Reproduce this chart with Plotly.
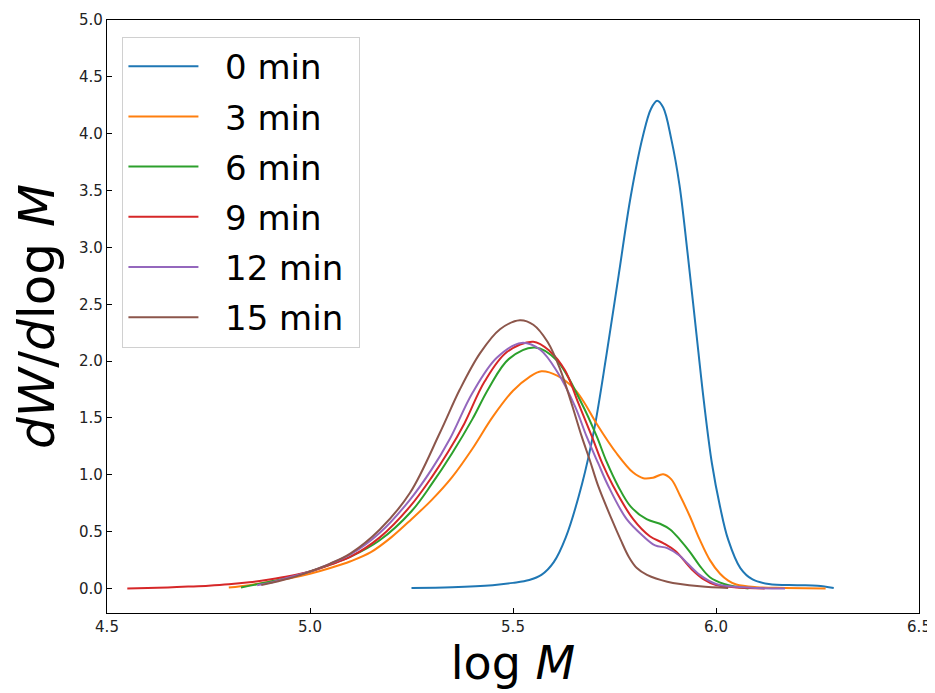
import plotly.graph_objects as go

# series: molecular weight distributions at different times
labels = ['0 min', '3 min', '6 min', '9 min', '12 min', '15 min']
colors = ['#1f77b4', '#ff7f0e', '#2ca02c', '#d62728', '#9467bd', '#8c564b']

x0 = [5.25, 5.35, 5.45, 5.50, 5.54, 5.57, 5.60, 5.63, 5.67, 5.70, 5.73, 5.76, 5.79, 5.82, 5.84,
      5.855, 5.87, 5.89, 5.91, 5.93, 5.95, 5.97, 5.99, 6.01, 6.03, 6.06, 6.09, 6.13, 6.20, 6.25, 6.29]
y0 = [0.005, 0.012, 0.03, 0.05, 0.075, 0.12, 0.23, 0.45, 0.92, 1.40, 2.05, 2.75, 3.45, 3.98, 4.22,
      4.29, 4.23, 3.95, 3.55, 2.95, 2.30, 1.65, 1.10, 0.72, 0.43, 0.18, 0.08, 0.04, 0.03, 0.025, 0.005]

x3 = [4.80, 4.85, 4.90, 4.95, 5.00, 5.05, 5.10, 5.15, 5.20, 5.25, 5.30, 5.35, 5.40, 5.45, 5.50,
      5.54, 5.57, 5.61, 5.65, 5.673, 5.706, 5.755, 5.796, 5.821, 5.845, 5.87, 5.89, 5.911, 5.935, 5.96,
      5.985, 6.01, 6.03, 6.05, 6.10, 6.17, 6.27]
y3 = [0.01, 0.03, 0.06, 0.09, 0.13, 0.18, 0.24, 0.32, 0.45, 0.61, 0.78, 0.98, 1.23, 1.51, 1.74,
      1.86, 1.91, 1.87, 1.76, 1.65, 1.45, 1.19, 1.02, 0.97, 0.975, 1.005, 0.96, 0.82, 0.64, 0.43,
      0.25, 0.13, 0.07, 0.035, 0.012, 0.005, 0.0]

x6 = [4.83, 4.90, 4.95, 5.00, 5.05, 5.10, 5.17, 5.25, 5.30, 5.35, 5.40, 5.44, 5.49, 5.554, 5.607,
      5.669, 5.706, 5.73, 5.759, 5.79, 5.829, 5.862, 5.887, 5.911, 5.936, 5.96, 5.985, 6.02, 6.05, 6.08]
y6 = [0.01, 0.06, 0.10, 0.15, 0.21, 0.28, 0.42, 0.68, 0.92, 1.19, 1.49, 1.76, 2.02, 2.12, 2.01,
      1.63, 1.34, 1.12, 0.90, 0.72, 0.61, 0.57, 0.52, 0.43, 0.32, 0.20, 0.10, 0.04, 0.015, 0.0]

x9 = [4.55, 4.60, 4.65, 4.70, 4.75, 4.80, 4.85, 4.90, 4.95, 5.00, 5.05, 5.10, 5.172, 5.246, 5.30,
      5.34, 5.38, 5.43, 5.485, 5.55, 5.59, 5.628, 5.661, 5.694, 5.72, 5.747, 5.796, 5.837, 5.87, 5.90,
      5.94, 5.97, 6.00, 6.05, 6.12]
y9 = [0.0, 0.005, 0.01, 0.017, 0.025, 0.037, 0.055, 0.08, 0.11, 0.15, 0.21, 0.28, 0.45, 0.72, 0.98,
      1.20, 1.45, 1.82, 2.08, 2.17, 2.09, 1.92, 1.63, 1.34, 1.10, 0.90, 0.61, 0.46, 0.40, 0.33,
      0.17, 0.08, 0.03, 0.01, 0.0]

x12 = [4.87, 4.90, 4.95, 5.00, 5.05, 5.10, 5.172, 5.246, 5.30, 5.345, 5.40, 5.46, 5.521, 5.567, 5.61,
       5.653, 5.681, 5.71, 5.735, 5.78, 5.821, 5.85, 5.88, 5.91, 5.93, 5.96, 6.00, 6.05, 6.10, 6.17]
y12 = [0.03, 0.05, 0.10, 0.15, 0.22, 0.30, 0.49, 0.78, 1.05, 1.32, 1.72, 2.03, 2.16, 2.10, 1.90,
       1.60, 1.34, 1.10, 0.90, 0.61, 0.46, 0.38, 0.355, 0.29, 0.22, 0.12, 0.04, 0.015, 0.005, 0.0]

x15 = [4.88, 4.95, 5.00, 5.05, 5.10, 5.172, 5.246, 5.32, 5.369, 5.419, 5.468, 5.517, 5.55, 5.585,
       5.616, 5.644, 5.669, 5.69, 5.71, 5.743, 5.765, 5.785, 5.805, 5.83, 5.88, 5.96, 6.03]
y15 = [0.03, 0.09, 0.15, 0.22, 0.31, 0.52, 0.84, 1.37, 1.75, 2.07, 2.28, 2.36, 2.32, 2.17,
       1.93, 1.63, 1.34, 1.12, 0.90, 0.61, 0.43, 0.28, 0.18, 0.12, 0.06, 0.02, 0.005]

xs = [x0, x3, x6, x9, x12, x15]
ys = [y0, y3, y6, y9, y12, y15]

fig = go.Figure()
for i in range(len(labels)):
    fig.add_trace(go.Scatter(
        x=xs[i], y=ys[i], name='\u00a0\u00a0' + labels[i] + '\u00a0', mode='lines',
        line=dict(color=colors[i], width=2, shape='spline', smoothing=1.0),
        legendgroup=labels[i]
    ))

axis_style = dict(
    showline=True, linecolor='black', linewidth=1.2, mirror=True,
    ticks='inside', ticklen=5, tickcolor='black', tickwidth=1,
    showgrid=False, zeroline=False, tickformat='.1f', automargin=False,
    tickfont=dict(family='DejaVu Sans', size=15, color='#222222'),
)

# page body has an 8px margin, so the figure is sized to fit the window
fig.update_layout(
    width=927, height=685,
    margin=dict(l=99, r=16, t=12, b=80),
    plot_bgcolor='white', paper_bgcolor='white',
    font=dict(family='DejaVu Sans', color='black'),
    showlegend=True,
    legend=dict(
        x=0.019, y=0.972, xanchor='left', yanchor='top',
        font=dict(family='DejaVu Sans', size=34, color='black'),
        bordercolor='#d0d0d0', borderwidth=1, bgcolor='rgba(255,255,255,0.8)',
        tracegroupgap=3, itemwidth=70,
    ),
)
fig.update_xaxes(range=[4.5, 6.5], dtick=0.5, tick0=4.5,
                 title=dict(text='log <i>M</i>', font=dict(family='DejaVu Sans', size=46), standoff=2),
                 **axis_style)
fig.update_yaxes(range=[-0.215, 5.0], dtick=0.5, tick0=0,
                 title=dict(text='<i>dW</i>/<i>d</i>log <i>M</i>', font=dict(family='DejaVu Sans', size=50), standoff=13),
                 **axis_style)

fig.write_html('out.html')
